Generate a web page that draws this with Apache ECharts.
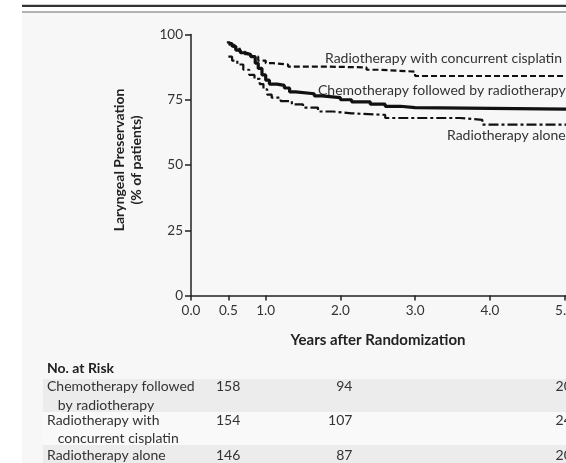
<!DOCTYPE html>
<html>
<head>
<meta charset="utf-8">
<script src="https://cdn.jsdelivr.net/npm/echarts@6/dist/echarts.min.js"></script>
<style>
  html, body { margin: 0; padding: 0; background: #fff; }
  #chart { width: 566px; height: 463px; }
</style>
</head>
<body>
<div id="chart"></div>
<script>
// survival curves, [years, % with larynx preserved]
var chemoThenRt = [
  [0.5, 96.5], [0.55, 95.5], [0.6, 94], [0.66, 93], [0.72, 92.3], [0.8, 91.5],
  [0.86, 89], [0.9, 87], [0.95, 84.5], [1.0, 82.5], [1.05, 81], [1.15, 80.5],
  [1.25, 79.5], [1.32, 78], [1.4, 77.3], [1.65, 76.5], [1.75, 75.8], [2.0, 75],
  [2.15, 74.2], [2.4, 73.3], [2.6, 72.5], [2.8, 72], [3.0, 71.4], [5.02, 71.4]
]
var rtCisplatin = [
  [0.48, 97], [0.52, 96], [0.58, 95], [0.65, 93.5], [0.72, 92.5], [0.8, 91.5],
  [0.9, 90], [1.0, 89], [1.1, 88.5], [1.3, 87.7], [1.8, 87.4], [2.35, 86.5],
  [2.5, 85.8], [3.0, 84.1], [5.02, 84.1]
]
var rtAlone = [
  [0.5, 91.5], [0.55, 90], [0.62, 88.5], [0.7, 86.5], [0.78, 84.5], [0.85, 83],
  [0.92, 81], [0.97, 79], [1.02, 77], [1.08, 75.8], [1.2, 74.5], [1.35, 73.2],
  [1.5, 72], [1.7, 70.5], [1.9, 69.8], [2.15, 69.2], [2.6, 68], [3.6, 67.3],
  [3.9, 65.5], [5.02, 65.5]
]

var xTicks = [0, 0.5, 1, 2, 3, 4, 5]
var groupNames = [
  'Chemotherapy followed\n   by radiotherapy',
  'Radiotherapy with\n   concurrent cisplatin',
  'Radiotherapy alone'
]
var riskTimes = [0.5, 2, 5]
var atRisk = [
  [158, 94, 20],
  [154, 107, 24],
  [146, 87, 20]
]

var FONT = 'Lato'
var chart = echarts.init(document.getElementById('chart'))

function lineSeries(data, dash, width) {
  return {
    type: 'line',
    data: data,
    step: 'end',
    symbol: 'none',
    silent: true,
    animation: false,
    lineStyle: { color: '#111', width: width, type: dash }
  }
}

chart.setOption({
  backgroundColor: '#fff',
  grid: { left: 191, top: 34.5, height: 261, width: 375, outerBoundsMode: 'none', containLabel: false },
  xAxis: {
    type: 'value',
    min: 0,
    max: 5.02,
    splitLine: { show: false },
    axisLine: { lineStyle: { color: '#222', width: 1.5 } },
    axisTick: { customValues: xTicks, length: 5, lineStyle: { color: '#222', width: 1.5 } },
    axisLabel: {
      customValues: xTicks,
      formatter: function (v) { return v.toFixed(1) },
      color: '#333', fontFamily: FONT, fontSize: 13.5, margin: 8
    }
  },
  yAxis: {
    type: 'value',
    min: 0,
    max: 100,
    interval: 25,
    splitLine: { show: false },
    axisLine: { show: true, lineStyle: { color: '#222', width: 1.5 } },
    axisTick: { show: true, length: 6, lineStyle: { color: '#222', width: 1.5 } },
    axisLabel: { color: '#333', fontFamily: FONT, fontSize: 13.5, margin: 8 }
  },
  series: [
    lineSeries(rtCisplatin, [6, 3], 2.2),
    lineSeries(chemoThenRt, 'solid', 3.2),
    lineSeries(rtAlone, [10, 3, 3, 3], 2.2)
  ]
})

function txt(x, y, s, extra) {
  return {
    type: 'text', x: x, y: y, silent: true,
    style: Object.assign({
      text: s, fill: '#333', font: '14px ' + FONT,
      textAlign: 'left', textVerticalAlign: 'middle'
    }, extra || {})
  }
}

var els = [
  { type: 'rect', shape: { x: 22, y: 13, width: 560, height: 460 }, style: { fill: '#f7f7f7' }, z: -10 },
  { type: 'line', shape: { x1: 22, y1: 5.8, x2: 566, y2: 5.8 }, style: { stroke: '#333', lineWidth: 2.3 } },
  { type: 'line', shape: { x1: 22, y1: 12, x2: 566, y2: 12 }, style: { stroke: '#999', lineWidth: 1.5 } },
  // table row shading
  { type: 'rect', shape: { x: 43, y: 379, width: 530, height: 33 }, style: { fill: '#ececec' }, z: -5 },
  { type: 'rect', shape: { x: 43, y: 412, width: 530, height: 33 }, style: { fill: '#f9f9f9' }, z: -5 },
  { type: 'rect', shape: { x: 43, y: 445, width: 530, height: 30 }, style: { fill: '#ececec' }, z: -5 },
  // curve labels
  txt(325, 58, 'Radiotherapy with concurrent cisplatin'),
  txt(318, 90, 'Chemotherapy followed by radiotherapy'),
  txt(447, 135, 'Radiotherapy alone'),
  // axis titles
  txt(378, 340, 'Years after Randomization', { font: 'bold 15px ' + FONT, fill: '#222', textAlign: 'center' }),
  {
    type: 'text', x: 128, y: 160, rotation: Math.PI / 2, silent: true,
    style: {
      text: 'Laryngeal Preservation\n(% of patients)', fill: '#222',
      font: 'bold 14px ' + FONT, lineHeight: 17,
      textAlign: 'center', textVerticalAlign: 'middle'
    }
  },
  txt(47, 368, 'No. at Risk', { font: 'bold 14px ' + FONT, fill: '#222' })
]

var rowY = [386.7, 420, 455]
groupNames.forEach(function (name, i) {
  var t = txt(47, rowY[i] - 9, name, { textVerticalAlign: 'top', lineHeight: 18.3 })
  els.push(t)
  atRisk[i].forEach(function (n, j) {
    var px = chart.convertToPixel({ xAxisIndex: 0 }, riskTimes[j])
    if (j < 2) {
      els.push(txt(px + 12, rowY[i], String(n), { textAlign: 'right' }))
    } else {
      els.push(txt(px - 9, rowY[i], String(n)))
    }
  })
})

chart.setOption({ graphic: { elements: els } })
</script>
</body>
</html>
